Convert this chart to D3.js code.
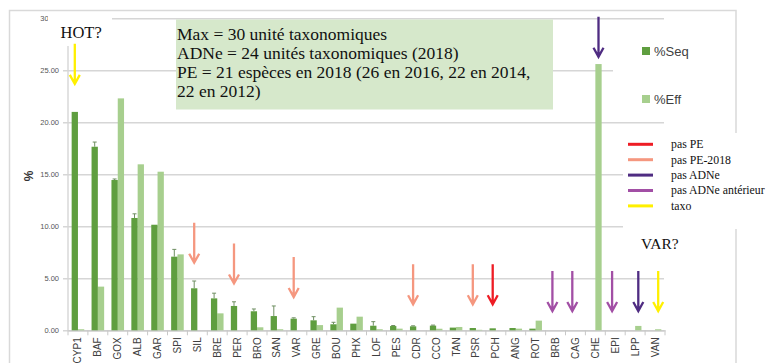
<!DOCTYPE html>
<html>
<head>
<meta charset="utf-8">
<script src="https://cdn.jsdelivr.net/npm/d3@7"></script>
<style>
  html, body { margin: 0; padding: 0; background: #fff; }
  svg { display: block; }
</style>
</head>
<body>
<svg id="chart" width="769" height="363"></svg>
<script>
// Taxa, in the order they are plotted
const categories = ["CYP1","BAF","GOX","ALB","GAR","SPI","SIL","BRE","PER","BRO","SAN","VAR","GRE","BOU","PHX","LOF","PES","CDR","CCO","TAN","PSR","PCH","ANG","ROT","BRB","CAG","CHE","EPI","LPP","VAN"];
// % of sequences (eDNA) per taxon
const seqValues = [21.0,17.65,14.45,10.8,10.15,7.08,4.04,3.07,2.34,1.83,1.37,1.12,0.96,0.58,0.64,0.44,0.41,0.38,0.45,0.26,0.22,0.19,0.22,0.16,0,0,0,0,0,0];
// error on % of sequences
const seqErrors = [0,0.45,0.1,0.4,0,0.7,0.7,0.5,0.4,0.22,0.97,0.08,0.35,0.19,0,0.39,0.05,0.05,0.05,0,0,0,0,0,0,0,0,0,0,0];
// % of individuals (fishing)
const effValues = [0.1,4.2,22.3,15.96,15.25,7.3,0,1.63,0,0.29,0.1,0,0.5,2.18,1.31,0.1,0.16,0,0.15,0.32,0.05,0,0.16,0.93,0,0,25.6,0,0.42,0.1];

const yTicks = [0,5,10,15,20,25,30];
const seriesNames = ["%Seq","%Eff"];

// Annotation arrows: taxon, kind, which bar it points at, value at the arrow tip
const arrowCats  = ["CYP1","SIL","PER","VAR","CDR","PSR","PCH","BRB","CAG","CHE","EPI","LPP","VAN"];
const arrowKinds = ["taxo","pas PE-2018","pas PE-2018","pas PE-2018","pas PE-2018","pas PE-2018","pas PE","pas ADNe antérieur","pas ADNe antérieur","pas ADNe","pas ADNe antérieur","pas ADNe","taxo"];
const arrowBars  = ["seq","seq","seq","seq","seq","seq","seq","seq","seq","eff","seq","eff","eff"];
const arrowTips  = [23.7,6.5,4.5,3.2,2.5,2.5,2.5,1.85,1.85,26.3,1.85,1.85,1.85];

const arrowLegend = ["pas PE","pas PE-2018","pas ADNe","pas ADNe antérieur","taxo"];
const arrowColors = ["#ee1c24","#f5977f","#4f2c82","#a24fa5","#fff000"];

const noteLines = [
  "Max = 30 unité taxonomiques",
  "ADNe = 24 unités taxonomiques (2018)",
  "PE = 21 espèces en 2018 (26 en 2016, 22 en 2014,",
  "22 en 2012)"
];

const SERIF = "'Liberation Serif','Times New Roman',serif";
const SANS = "'Liberation Sans',Arial,sans-serif";
const seqColor = "#5f9e3f", effColor = "#a7cf8e";
const gridColor = "#d6d6d6";

const svg = d3.select("#chart");

// outer chart frame
svg.append("rect").attr("x", 9.5).attr("y", 10.5).attr("width", 726.5).attr("height", 360)
  .attr("fill", "none").attr("stroke", "#d9d9d9").attr("stroke-width", 1.5);

const x = d3.scaleBand().domain(categories).range([68, 665]).paddingInner(0).paddingOuter(0);
const sub = d3.scaleBand().domain(["seq","eff"]).range([0, x.bandwidth()]).paddingInner(0).paddingOuter(0.58);
const y = d3.scaleLinear().domain([0, 30]).range([330.3, 18.3]);

// horizontal gridlines
const grid = svg.append("g").attr("transform", "translate(664,0)")
  .call(d3.axisLeft(y).tickValues(yTicks).tickSize(664 - 63).tickFormat(""));
grid.select(".domain").remove();
grid.selectAll("line").attr("stroke", gridColor).attr("stroke-width", 1.6);

// y axis line
svg.append("line").attr("x1", 68).attr("x2", 68).attr("y1", y(30)).attr("y2", y(0))
  .attr("stroke", gridColor).attr("stroke-width", 1.4);

// y tick labels
const yAxis = svg.append("g").attr("transform", "translate(61,0)")
  .call(d3.axisLeft(y).tickValues(yTicks).tickSize(0).tickPadding(2).tickFormat(d3.format(".2f")));
yAxis.select(".domain").remove();
yAxis.selectAll("text").attr("font-family", SANS).attr("font-size", 7.5).attr("fill", "#555");

// y axis title
svg.append("text").attr("transform", "translate(33,176) rotate(-90)")
  .attr("text-anchor", "middle").attr("font-family", SANS).attr("font-weight", "bold")
  .attr("font-size", 12).attr("fill", "#333").text("%");

// x axis with rotated labels
const xAxis = svg.append("g").attr("transform", `translate(0,${y(0)})`)
  .call(d3.axisBottom(x).tickSize(0));
xAxis.select(".domain").attr("stroke", "#c8c8c8").attr("stroke-width", 1.2);
xAxis.selectAll("text")
  .attr("font-family", SANS).attr("font-size", 10).attr("fill", "#404040")
  .attr("transform", "rotate(-90)").attr("text-anchor", "end")
  .attr("x", -7).attr("y", 0).attr("dy", "0.35em");

// category boundary ticks
const bounds = categories.map(c => x(c)).concat([x(categories[categories.length - 1]) + x.bandwidth()]);
svg.append("g").selectAll("line").data(bounds).join("line")
  .attr("x1", d => d).attr("x2", d => d).attr("y1", y(0)).attr("y2", y(0) + 5)
  .attr("stroke", "#c8c8c8").attr("stroke-width", 1);

// bars
const rows = categories.map((c, i) => ({ c, seq: seqValues[i], eff: effValues[i], err: seqErrors[i] }));
const barG = svg.append("g");
barG.selectAll("rect.eff").data(rows).join("rect").attr("class", "eff")
  .attr("x", d => x(d.c) + sub("eff")).attr("width", sub.bandwidth())
  .attr("y", d => y(d.eff)).attr("height", d => y(0) - y(d.eff)).attr("fill", effColor);
barG.selectAll("rect.seq").data(rows).join("rect").attr("class", "seq")
  .attr("x", d => x(d.c) + sub("seq")).attr("width", sub.bandwidth())
  .attr("y", d => y(d.seq)).attr("height", d => y(0) - y(d.seq)).attr("fill", seqColor);

// error bars on %Seq
const errRows = rows.filter(d => d.err > 0);
const errG = svg.append("g").attr("stroke", "#6f8f62").attr("stroke-width", 1);
errG.selectAll("line.v").data(errRows).join("line").attr("class", "v")
  .attr("x1", d => x(d.c) + sub("seq") + sub.bandwidth() / 2)
  .attr("x2", d => x(d.c) + sub("seq") + sub.bandwidth() / 2)
  .attr("y1", d => y(d.seq)).attr("y2", d => y(d.seq + d.err));
errG.selectAll("line.cap").data(errRows).join("line").attr("class", "cap")
  .attr("x1", d => x(d.c) + sub("seq") + sub.bandwidth() / 2 - 2)
  .attr("x2", d => x(d.c) + sub("seq") + sub.bandwidth() / 2 + 2)
  .attr("y1", d => y(d.seq + d.err)).attr("y2", d => y(d.seq + d.err));

// series legend
svg.append("rect").attr("x", 613).attr("y", 27).attr("width", 121).attr("height", 88).attr("fill", "#fff");
const legendY = [51, 99];
seriesNames.forEach((name, i) => {
  svg.append("rect").attr("x", 642).attr("y", legendY[i] - 4).attr("width", 8).attr("height", 8)
    .attr("fill", i === 0 ? seqColor : effColor);
  svg.append("text").attr("x", 654).attr("y", legendY[i] + 5).attr("font-family", SANS)
    .attr("font-size", 13).attr("fill", "#404040").text(name);
});

// note box
const note = svg.append("g");
note.append("rect").attr("x", 176).attr("y", 19.5).attr("width", 377).attr("height", 90).attr("fill", "#d6e8cb");
note.selectAll("text").data(noteLines).join("text")
  .attr("x", 177).attr("y", (d, i) => 40 + i * 19)
  .attr("font-family", SERIF).attr("font-size", 17.5).attr("fill", "#111").text(d => d);

// HOT? label
svg.append("rect").attr("x", 48).attr("y", 14).attr("width", 64).attr("height", 32).attr("fill", "#fff");
svg.append("text").attr("x", 60.5).attr("y", 37.5).attr("font-family", SERIF).attr("font-size", 16.5)
  .attr("fill", "#111").text("HOT?");

// arrow legend
svg.append("rect").attr("x", 623).attr("y", 133).attr("width", 146).attr("height", 96).attr("fill", "#fff");
arrowLegend.forEach((k, i) => {
  const ly = 144.3 + i * 15.4;
  svg.append("line").attr("x1", 628).attr("x2", 653).attr("y1", ly).attr("y2", ly)
    .attr("stroke", arrowColors[i]).attr("stroke-width", 3);
  svg.append("text").attr("x", 671).attr("y", ly + 3.8).attr("font-family", SERIF)
    .attr("font-size", 11.8).attr("fill", "#111").text(k);
});

// VAR? label
svg.append("text").attr("x", 641).attr("y", 249).attr("font-family", SERIF).attr("font-size", 15.5)
  .attr("fill", "#111").text("VAR?");

// annotation arrows
const arrowLen = 40;
const arrows = arrowCats.map((c, i) => ({
  x: x(c) + sub(arrowBars[i]) + sub.bandwidth() / 2,
  tip: y(arrowTips[i]),
  color: arrowColors[arrowLegend.indexOf(arrowKinds[i])]
}));
svg.append("g").selectAll("path").data(arrows).join("path")
  .attr("d", d => `M${d.x},${d.tip - arrowLen}L${d.x},${d.tip - 1}M${d.x - 5},${d.tip - 9}L${d.x},${d.tip}L${d.x + 5},${d.tip - 9}`)
  .attr("fill", "none").attr("stroke", d => d.color).attr("stroke-width", 2.3)
  .attr("stroke-linejoin", "miter");
</script>
</body>
</html>
